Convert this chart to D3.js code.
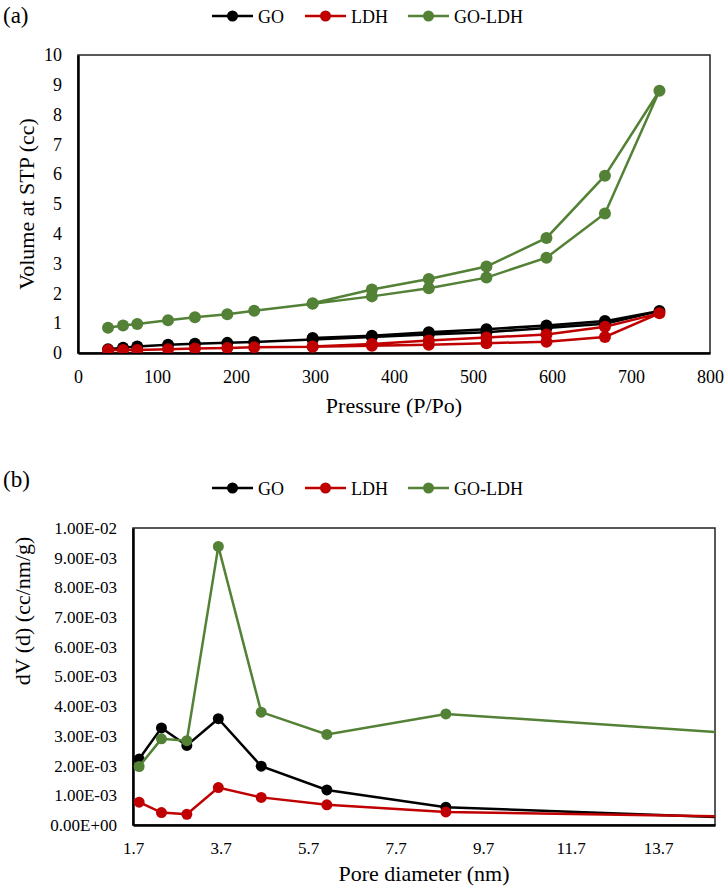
<!DOCTYPE html>
<html>
<head>
<meta charset="utf-8">
<script src="https://cdn.jsdelivr.net/npm/d3@7"></script>
<style>
  body { margin: 0; background: #fff; }
  svg text { font-family: "Liberation Serif", "Times New Roman", serif; fill: #000; }
</style>
</head>
<body>
<div id="chart"></div>
<script>
// ---- data, panel (a): isotherm, adsorption out then desorption back
var pressure = [38, 57, 75, 114, 148, 189, 223, 297, 372, 444, 517, 593, 667, 736, 667, 593, 517, 444, 372, 297]
var go_volume = [0.13, 0.18, 0.22, 0.28, 0.31, 0.34, 0.37, 0.45, 0.54, 0.62, 0.7, 0.84, 0.98, 1.41, 1.07, 0.92, 0.8, 0.7, 0.58, 0.5]
var ldh_volume = [0.1, 0.1, 0.1, 0.13, 0.15, 0.17, 0.19, 0.21, 0.24, 0.28, 0.33, 0.38, 0.54, 1.33, 0.88, 0.62, 0.52, 0.42, 0.3, 0.22]
var goldh_volume = [0.85, 0.92, 0.97, 1.1, 1.2, 1.3, 1.42, 1.65, 1.9, 2.17, 2.53, 3.2, 4.68, 8.8, 5.95, 3.86, 2.9, 2.48, 2.13, 1.67]

// ---- data, panel (b): pore size distribution
var pore = [1.84, 2.35, 2.93, 3.65, 4.63, 6.13, 8.85, 17.0]
var go_dv = [2.22e-3, 3.27e-3, 2.68e-3, 3.58e-3, 1.98e-3, 1.18e-3, 0.6e-3, 0.16e-3]
var ldh_dv = [0.77e-3, 0.42e-3, 0.36e-3, 1.26e-3, 0.93e-3, 0.68e-3, 0.44e-3, 0.25e-3]
var goldh_dv = [1.97e-3, 2.9e-3, 2.84e-3, 9.38e-3, 3.8e-3, 3.05e-3, 3.74e-3, 2.93e-3]

var names = ['GO', 'LDH', 'GO-LDH']
var colors = ['#000000', '#c00000', '#538135']
var pressure_ticks = [0, 100, 200, 300, 400, 500, 600, 700, 800]
var volume_ticks = [0, 1, 2, 3, 4, 5, 6, 7, 8, 9, 10]
var pore_ticks = [1.7, 3.7, 5.7, 7.7, 9.7, 11.7, 13.7]
var dv_ticks = [0, 1e-3, 2e-3, 3e-3, 4e-3, 5e-3, 6e-3, 7e-3, 8e-3, 9e-3, 1e-2]

var SERIF = '"Liberation Serif", "Times New Roman", serif'

var svg = d3.select('#chart').append('svg')
  .attr('width', 726)
  .attr('height', 889)
  .style('font-family', SERIF)

function legend(y) {
  var xs = [212, 305, 408]
  names.forEach(function (n, i) {
    var g = svg.append('g').attr('transform', 'translate(' + xs[i] + ',' + y + ')')
    g.append('line').attr('x1', 0).attr('x2', 41).attr('y1', 0).attr('y2', 0)
      .attr('stroke', colors[i]).attr('stroke-width', 2.5)
    g.append('circle').attr('cx', 20.5).attr('cy', 0).attr('r', 5.5).attr('fill', colors[i])
    g.append('text').attr('x', 46).attr('y', 6.5)
      .style('font-family', SERIF).style('font-size', '18px').text(n)
  })
}

function panel(opt) {
  var m = opt.box
  var w = m.right - m.left
  var h = m.bottom - m.top
  var g = svg.append('g').attr('transform', 'translate(' + m.left + ',' + m.top + ')')

  var x = d3.scaleLinear().domain(opt.xdom).range([0, w])
  var y = d3.scaleLinear().domain(opt.ydom).range([h, 0])

  g.append('rect').attr('width', w).attr('height', h)
    .attr('fill', 'none').attr('stroke', '#222').attr('stroke-width', 1.5)

  var xa = g.append('g').attr('transform', 'translate(0,' + h + ')')
    .call(d3.axisBottom(x).tickValues(opt.xticks).tickSize(0).tickPadding(opt.xpad).tickFormat(opt.xfmt))
  var ya = g.append('g')
    .call(d3.axisLeft(y).tickValues(opt.yticks).tickSize(0).tickPadding(opt.ypad).tickFormat(opt.yfmt))
  ;[xa, ya].forEach(function (a) {
    a.attr('font-family', null).attr('font-size', null)
    a.select('.domain').attr('stroke', '#000').attr('stroke-width', 2.5)
    a.selectAll('text').style('font-size', opt.tickfs + 'px').style('font-family', SERIF).attr('fill', '#000')
  })

  var clipId = 'clip' + opt.id
  g.append('clipPath').attr('id', clipId).append('rect').attr('width', w).attr('height', h)
  var plot = g.append('g').attr('clip-path', 'url(#' + clipId + ')')

  var line = d3.line().x(function (d) { return x(d[0]) }).y(function (d) { return y(d[1]) })
  opt.series.forEach(function (vals, i) {
    var pts = opt.xs.map(function (v, k) { return [v, vals[k]] })
    plot.append('path').datum(pts).attr('d', line)
      .attr('fill', 'none').attr('stroke', colors[i]).attr('stroke-width', opt.lw)
    plot.selectAll('.pt' + i).data(pts).enter().append('circle')
      .attr('cx', function (d) { return x(d[0]) })
      .attr('cy', function (d) { return y(d[1]) })
      .attr('r', opt.r).attr('fill', colors[i])
  })

  g.append('text').attr('x', w / 2).attr('y', h + opt.xtitle_dy)
    .attr('text-anchor', 'middle').style('font-family', SERIF).style('font-size', '22px').text(opt.xtitle)
  g.append('text')
    .attr('transform', 'translate(' + (opt.ytitle_x - m.left) + ',' + (opt.ytitle_y - m.top) + ') rotate(-90)')
    .attr('text-anchor', 'middle').style('font-family', SERIF).style('font-size', '22px').text(opt.ytitle)
}

// (a)
svg.append('text').attr('x', 3).attr('y', 23).style('font-family', SERIF).style('font-size', '23px').text('(a)')
legend(16)
panel({
  id: 'a',
  box: { left: 78, right: 710, top: 55, bottom: 353 },
  xdom: [0, 800], ydom: [0, 10],
  xticks: pressure_ticks, yticks: volume_ticks,
  xfmt: d3.format('d'), yfmt: d3.format('d'),
  xpad: 17, ypad: 16, tickfs: 18,
  xs: pressure, series: [go_volume, ldh_volume, goldh_volume],
  lw: 2.5, r: 6,
  xtitle: 'Pressure (P/Po)', xtitle_dy: 60,
  ytitle: 'Volume at STP (cc)', ytitle_x: 34, ytitle_y: 204
})

// (b)
svg.append('text').attr('x', 3).attr('y', 487).style('font-family', SERIF).style('font-size', '23px').text('(b)')
legend(488)
panel({
  id: 'b',
  box: { left: 133, right: 715, top: 528, bottom: 825 },
  xdom: [1.7, 15.0], ydom: [0, 0.01],
  xticks: pore_ticks, yticks: dv_ticks,
  xfmt: d3.format('.1f'),
  yfmt: function (d) {
    var s = d3.format('.2e')(d)
    return s.replace(/e([+-])(\d)$/, 'E$10$2').replace('e', 'E')
  },
  xpad: 17, ypad: 16, tickfs: 17,
  xs: pore, series: [go_dv, ldh_dv, goldh_dv],
  lw: 2.5, r: 5.5,
  xtitle: 'Pore diameter (nm)', xtitle_dy: 56,
  ytitle: 'dV (d) (cc/nm/g)', ytitle_x: 30, ytitle_y: 611
})
</script>
</body>
</html>
